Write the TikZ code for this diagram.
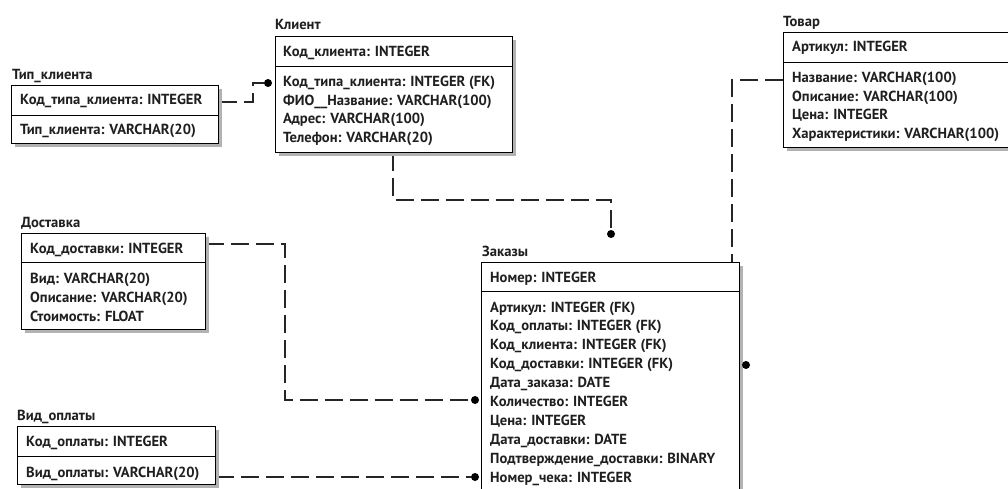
\documentclass[tikz,border=0pt]{standalone}
\usepackage{fontspec}
\setmainfont{PT Sans}
\usetikzlibrary{shadows}
\pgfdeclarelayer{bg}
\pgfsetlayers{bg,main}
\tikzset{
  x=1pt, y=-1pt,
  tbl/.style={draw=black, line width=0.9pt, fill=white, inner sep=0pt, anchor=north west,
    drop shadow={shadow xshift=4pt, shadow yshift=-4pt, fill=gray!60, opacity=1}},
  fld/.style={anchor=base west, inner sep=0pt, text=black!88, font=\bfseries\fontsize{14.6}{16}\selectfont},
  sepline/.style={draw=black, line width=0.9pt},
  rel/.style={draw=black!85, line width=1.1pt, dash pattern=on 18pt off 7pt},
  enddot/.style={circle, fill=black, inner sep=0pt, minimum size=8pt},
}
\begin{document}
\begin{tikzpicture}
\useasboundingbox (0,0) rectangle (1008,489);

% ---------- Тип_клиента ----------
\node[fld] (tipk-t) at (12,80) {Тип\_клиента};
\node[tbl, minimum width=207pt, minimum height=58pt] (tipk) at (11,85) {};
\draw[sepline] ([yshift=-30pt]tipk.north west) -- ([yshift=-30pt]tipk.north east);
\node[fld] (tipk-pk) at (20,105) {Код\_типа\_клиента: INTEGER};
\node[fld] (tipk-1) at (20,135) {Тип\_клиента: VARCHAR(20)};

% ---------- Клиент ----------
\node[fld] (kl-t) at (275,30) {Клиент};
\node[tbl, minimum width=237pt, minimum height=116pt] (klient) at (275,36) {};
\draw[sepline] ([yshift=-30pt]klient.north west) -- ([yshift=-30pt]klient.north east);
\node[fld] (kl-pk) at (283,57) {Код\_клиента: INTEGER};
\node[fld] (kl-1) at (283,87) {Код\_типа\_клиента: INTEGER (FK)};
\node[fld] (kl-2) at (283,105.5) {ФИО\_\_Название: VARCHAR(100)};
\node[fld] (kl-3) at (283,124) {Адрес: VARCHAR(100)};
\node[fld] (kl-4) at (283,142.5) {Телефон: VARCHAR(20)};

% ---------- Товар ----------
\node[fld] (tv-t) at (783,27) {Товар};
\node[tbl, minimum width=240pt, minimum height=115pt] (tovar) at (783,32) {};
\draw[sepline] ([yshift=-30pt]tovar.north west) -- ([yshift=-30pt]tovar.north east);
\node[fld] (tv-pk) at (792,52) {Артикул: INTEGER};
\node[fld] (tv-1) at (792,83) {Название: VARCHAR(100)};
\node[fld] (tv-2) at (792,101.5) {Описание: VARCHAR(100)};
\node[fld] (tv-3) at (792,120) {Цена: INTEGER};
\node[fld] (tv-4) at (792,138.5) {Характеристики: VARCHAR(100)};

% ---------- Доставка ----------
\node[fld] (ds-t) at (21,227) {Доставка};
\node[tbl, minimum width=184pt, minimum height=96pt] (dost) at (21,233) {};
\draw[sepline] ([yshift=-29pt]dost.north west) -- ([yshift=-29pt]dost.north east);
\node[fld] (ds-pk) at (30,253) {Код\_доставки: INTEGER};
\node[fld] (ds-1) at (30,283) {Вид: VARCHAR(20)};
\node[fld] (ds-2) at (30,302) {Описание: VARCHAR(20)};
\node[fld] (ds-3) at (30,321) {Стоимость: FLOAT};

% ---------- Вид_оплаты ----------
\node[fld] (vo-t) at (17,420) {Вид\_оплаты};
\node[tbl, minimum width=198pt, minimum height=58pt] (vido) at (17,426) {};
\draw[sepline] ([yshift=-30pt]vido.north west) -- ([yshift=-30pt]vido.north east);
\node[fld] (vo-pk) at (26,446) {Код\_оплаты: INTEGER};
\node[fld] (vo-1) at (26,477) {Вид\_оплаты: VARCHAR(20)};

% ---------- Заказы ----------
\node[fld] (zk-t) at (482,256) {Заказы};
\node[tbl, minimum width=258pt, minimum height=240pt] (zak) at (481,262) {};
\draw[sepline] ([yshift=-29pt]zak.north west) -- ([yshift=-29pt]zak.north east);
\node[fld] (zk-pk) at (490,282) {Номер: INTEGER};
\node[fld] (zk-1) at (490,312) {Артикул: INTEGER (FK)};
\node[fld] (zk-2) at (490,330.9) {Код\_оплаты: INTEGER (FK)};
\node[fld] (zk-3) at (490,349.8) {Код\_клиента: INTEGER (FK)};
\node[fld] (zk-4) at (490,368.7) {Код\_доставки: INTEGER (FK)};
\node[fld] (zk-5) at (490,387.6) {Дата\_заказа: DATE};
\node[fld] (zk-6) at (490,406.5) {Количество: INTEGER};
\node[fld] (zk-7) at (490,425.4) {Цена: INTEGER};
\node[fld] (zk-8) at (490,444.3) {Дата\_доставки: DATE};
\node[fld] (zk-9) at (490,463.2) {Подтверждение\_доставки: BINARY};
\node[fld] (zk-10) at (490,482.1) {Номер\_чека: INTEGER};

% ---------- relationship end points ----------
\node[enddot] (d-kl) at (268,83) {};
\node[enddot] (d-zk-kl) at (611,234) {};
\node[enddot] (d-zk-ds) at (475,400) {};
\node[enddot] (d-zk-vo) at (475,477) {};
\node[enddot] (d-zk-tv) at (746,365) {};

% ---------- relationships, behind the tables ----------
\begin{pgfonlayer}{bg}
\fill[white] (0,0) rectangle (1008,489);
\draw[rel] (tipk.east |- 0,102) -- (253,102) |- (d-kl);
\draw[rel] (klient.south -| 393,0) -- (393,200) -| (d-zk-kl);
\draw[rel] (dost.east |- 0,244) -| (285,400) -- (d-zk-ds);
\draw[rel] (vido.east |- 0,477) -- (d-zk-vo);
\draw[rel] (tovar.west |- 0,80) -| (732,365) -- (d-zk-tv);
\end{pgfonlayer}
\end{tikzpicture}
\end{document}
